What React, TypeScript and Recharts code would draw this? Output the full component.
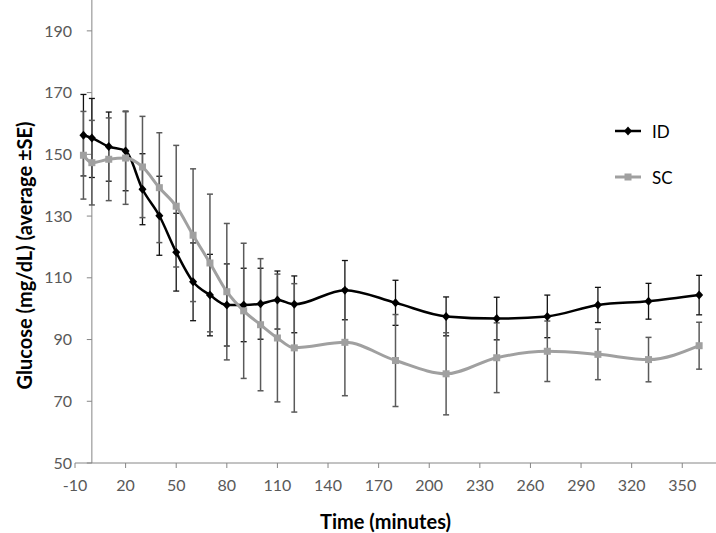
import { LineChart, Line, XAxis, YAxis, ErrorBar, ReferenceLine, Legend } from 'recharts'

// sampling times (minutes)
const times = [-5, 0, 10, 20, 30, 40, 50, 60, 70, 80, 90, 100, 110, 120, 150, 180, 210, 240, 270, 300, 330, 360]

// ID group: mean glucose and SE
const idMean = [156.2, 155.3, 152.5, 151.1, 138.7, 130.1, 118.3, 108.7, 104.4, 101.2, 101.2, 101.6, 102.8, 101.4, 106.0, 101.9, 97.5, 96.8, 97.5, 101.2, 102.4, 104.4]
const idSE = [13.2, 12.8, 11.2, 12.9, 11.5, 12.8, 12.6, 12.6, 13.2, 13.3, 11.9, 11.5, 9.4, 9.2, 9.6, 7.3, 6.3, 6.9, 6.9, 5.7, 5.8, 6.4]

// SC group: mean glucose and SE
const scMean = [149.7, 147.3, 148.4, 148.8, 145.9, 139.2, 133.2, 123.8, 114.8, 105.5, 99.3, 94.8, 90.5, 87.3, 89.1, 83.2, 78.9, 84.1, 86.2, 85.2, 83.5, 88.0]
const scSE = [14.2, 13.7, 13.4, 15.0, 16.4, 17.8, 19.7, 21.5, 22.3, 22.1, 21.9, 21.4, 20.7, 20.8, 17.3, 14.9, 13.3, 11.3, 9.8, 8.2, 7.2, 7.6]

const xTicks = [-10, 20, 50, 80, 110, 140, 170, 200, 230, 260, 290, 320, 350]
const yTicks = [50, 70, 90, 110, 130, 150, 170, 190]

const data = times.map((t, i) => ({
  t,
  id: idMean[i],
  idErr: idSE[i],
  sc: scMean[i],
  scErr: scSE[i],
}))

const AXIS = '#868686'
const TICK_TEXT = '#595959'
const SC_GRAY = '#a0a0a0'
const FONT = 'Lato, "Open Sans", sans-serif'

const tickStyle = { fontSize: 16, fill: TICK_TEXT, fontFamily: FONT }
const titleStyle = { fontSize: 20, fontWeight: 700, fill: '#000', fontFamily: FONT }

function diamondDot(props: any) {
  const { cx, cy, index } = props
  if (cx == null || cy == null) return <g key={`id-${index}`} />
  return (
    <path
      key={`id-${index}`}
      d={`M${cx},${cy - 4.5}L${cx + 4},${cy}L${cx},${cy + 4.5}L${cx - 4},${cy}Z`}
      fill="#000"
    />
  )
}

function squareDot(props: any) {
  const { cx, cy, index } = props
  if (cx == null || cy == null) return <g key={`sc-${index}`} />
  return <rect key={`sc-${index}`} x={cx - 3.5} y={cy - 3.5} width={7} height={7} fill={SC_GRAY} />
}

function LegendBox() {
  const item = (label: string, color: string, shape: 'diamond' | 'square', width: number) => (
    <div style={{ display: 'flex', alignItems: 'center', height: 46 }}>
      <svg width={32} height={14} style={{ marginRight: 8 }}>
        <line x1={3} y1={7} x2={29} y2={7} stroke={color} strokeWidth={width} />
        {shape === 'diamond' ? (
          <path d="M16,2.5L20,7L16,11.5L12,7Z" fill={color} />
        ) : (
          <rect x={12.5} y={3.5} width={7} height={7} fill={color} />
        )}
      </svg>
      <span style={{ fontFamily: FONT, fontSize: 17, color: '#000' }}>{label}</span>
    </div>
  )
  return (
    <div>
      {item('ID', '#000', 'diamond', 2.5)}
      {item('SC', SC_GRAY, 'square', 3)}
    </div>
  )
}

export default function App() {
  return (
    <div style={{ position: 'absolute', left: 0, top: 0, background: '#fff' }}>
      <LineChart width={716} height={533} data={data} margin={{ top: 0, right: 0, bottom: 0, left: 0 }}>
        <XAxis
          type="number"
          dataKey="t"
          domain={[-10, 370]}
          ticks={xTicks}
          interval={0}
          allowDataOverflow
          height={70}
          tick={tickStyle}
          tickSize={5}
          tickMargin={12}
          tickLine={{ stroke: AXIS }}
          axisLine={{ stroke: AXIS }}
          label={{ value: 'Time (minutes)', position: 'insideBottom', offset: 4, dx: -10, style: titleStyle }}
        />
        <YAxis
          type="number"
          domain={[50, 200]}
          ticks={yTicks}
          interval={0}
          allowDataOverflow
          width={75}
          axisLine={false}
          tickLine={false}
          tickSize={1}
          tickMargin={2}
          tick={tickStyle}
          label={{
            value: 'Glucose (mg/dL) (average ±SE)',
            angle: -90,
            position: 'insideLeft',
            dx: 20,
            dy: 24,
            style: { ...titleStyle, textAnchor: 'middle' },
          }}
        />
        <ReferenceLine x={0} stroke={AXIS} />
        {yTicks.map((v) => (
          <ReferenceLine key={v} segment={[{ x: -3, y: v }, { x: 0, y: v }]} stroke={AXIS} />
        ))}
        <Legend
          layout="horizontal"
          verticalAlign="middle"
          align="center"
          wrapperStyle={{ position: 'absolute', left: 612, top: 108, width: 100 }}
          content={() => <LegendBox />}
        />
        <Line
          dataKey="id"
          type="monotone"
          stroke="#000"
          strokeWidth={2.5}
          dot={diamondDot}
          activeDot={false}
          isAnimationActive={false}
        >
          <ErrorBar dataKey="idErr" direction="y" width={3} stroke="#111" strokeWidth={1.3} />
        </Line>
        <Line
          dataKey="sc"
          type="monotone"
          stroke={SC_GRAY}
          strokeWidth={3}
          dot={squareDot}
          activeDot={false}
          isAnimationActive={false}
        >
          <ErrorBar dataKey="scErr" direction="y" width={3} stroke="#5a5a5a" strokeWidth={1.5} />
        </Line>
      </LineChart>
    </div>
  )
}
